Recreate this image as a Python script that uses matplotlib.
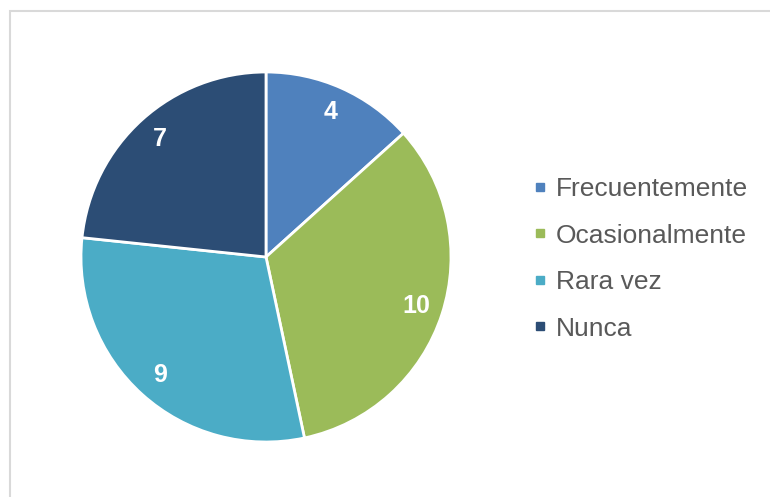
import matplotlib
matplotlib.use('Agg')
import matplotlib.pyplot as plt
from matplotlib.lines import Line2D
from matplotlib.patches import Rectangle

categories = ['Frecuentemente', 'Ocasionalmente', 'Rara vez', 'Nunca']
values = [4, 10, 9, 7]
colors = ['#4F81BD', '#9BBB59', '#4BACC6', '#2C4D75']

plt.rcParams['font.family'] = ['Liberation Sans', 'DejaVu Sans']

fig = plt.figure(figsize=(7.7, 4.97), dpi=100)

# light gray chart border (only left and top visible in the crop)
fig.patches.append(Rectangle((10 / 770, -0.1), 1.2, (497 - 11) / 497 + 0.1,
                             transform=fig.transFigure, fill=False,
                             edgecolor='#D9D9D9', linewidth=1.5))

ax = fig.add_axes([81 / 770, 55 / 497, 370 / 770, 370 / 497])
wedges, texts, autotexts = ax.pie(
    values, colors=colors, startangle=90, counterclock=False,
    wedgeprops=dict(edgecolor='white', linewidth=2),
    autopct=lambda p: '{:.0f}'.format(p * sum(values) / 100),
    pctdistance=0.855, radius=1)
for t in autotexts:
    t.set_color('white')
    t.set_fontsize(18)
    t.set_fontweight('bold')
ax.set_xlim(-1, 1)
ax.set_ylim(-1, 1)
ax.set_aspect('equal')

handles = [Line2D([], [], marker='s', linestyle='none', markersize=6,
                  markerfacecolor=c, markeredgecolor=c) for c in colors]
fig.legend(handles, categories, loc='center left',
           bbox_to_anchor=(535 / 770, 0.479), frameon=False,
           fontsize=19, labelcolor='#595959', labelspacing=0.85,
           handlelength=0.4, handletextpad=0.4, borderpad=0,
           borderaxespad=0)

fig.savefig('out.png', dpi=100)
